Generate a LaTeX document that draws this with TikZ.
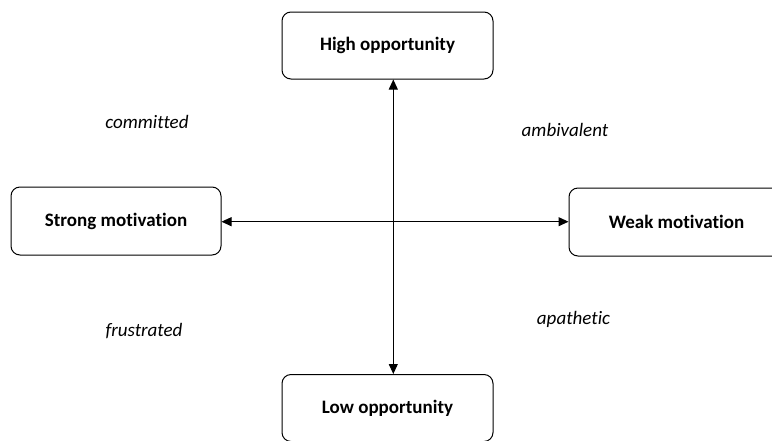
\documentclass[tikz,border=0pt]{standalone}
\usepackage{fontspec}
\setmainfont{Carlito}[Ligatures=NoCommon]
\usetikzlibrary{arrows.meta}

\begin{document}
\begin{tikzpicture}[
      x=1pt, y=-1pt,
      pole/.style={draw, line width=1pt, rounded corners=9pt, minimum width=211pt, minimum height=67pt, align=center, inner sep=0pt, font=\fontsize{19}{23}\selectfont\bfseries},
      mood/.style={anchor=base, inner sep=0pt, font=\fontsize{19}{23}\selectfont\itshape},
      axis/.style={{Triangle[length=10pt,width=9pt]}-{Triangle[length=10pt,width=9pt]}, line width=1pt}
    ]
    \useasboundingbox (0,0) rectangle (772,440);
    \coordinate (centre) at (393.3,221.7);

    \node[pole] (high) at (387.5,45.5) {High opportunity};
    \node[pole] (low) at (387.5,408) {Low opportunity};
    \node[pole, minimum width=210pt, minimum height=68pt] (strong) at (116,221) {Strong motivation};
    \node[pole, minimum width=215pt, minimum height=68pt] (weak) at (676.5,222) {Weak motivation};

    \node[mood] (committed) at (147,128) {committed};
    \node[mood] (ambivalent) at (565,136) {ambivalent};
    \node[mood] (frustrated) at (144,336) {frustrated};
    \node[mood] (apathetic) at (573.5,324) {apathetic};

    \draw[axis] (high.south -| centre) -- (low.north -| centre);
    \draw[axis] (strong.east |- centre) -- (weak.west |- centre);
  \end{tikzpicture}
\end{document}
